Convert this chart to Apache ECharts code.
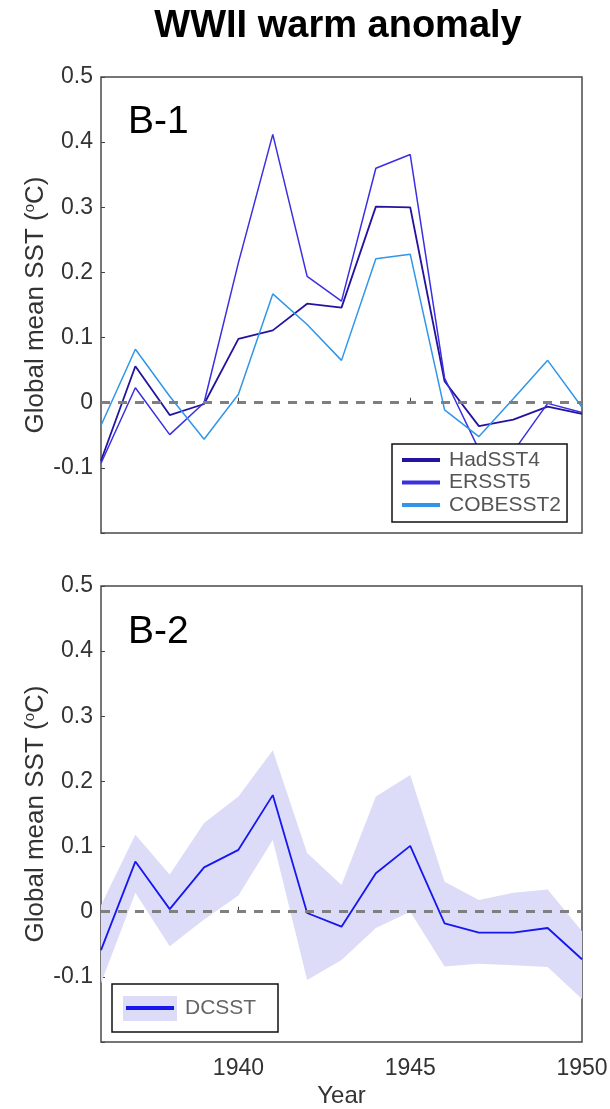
<!DOCTYPE html>
<html>
<head>
<meta charset="utf-8">
<script src="https://cdn.jsdelivr.net/npm/echarts@6/dist/echarts.min.js"></script>
<style>
html,body{margin:0;padding:0;background:#fff;}
#chart{width:610px;height:1109px;}
</style>
</head>
<body>
<div id="chart"></div>
<script>
// ---- data ----
var years = [1936,1937,1938,1939,1940,1941,1942,1943,1944,1945,1946,1947,1948,1949,1950];
var hadSST4  = [-0.089,0.056,-0.019,-0.002,0.098,0.111,0.152,0.146,0.301,0.300,0.033,-0.036,-0.026,-0.006,-0.017];
var ersst5   = [-0.093,0.023,-0.049,0.000,0.215,0.412,0.194,0.156,0.360,0.381,0.038,-0.072,-0.075,-0.001,-0.015];
var cobesst2 = [-0.035,0.082,0.010,-0.056,0.013,0.167,0.120,0.065,0.221,0.228,-0.011,-0.052,0.006,0.065,-0.007];
var dcsst    = [-0.059,0.077,0.004,0.068,0.095,0.179,-0.002,-0.023,0.059,0.101,-0.018,-0.032,-0.032,-0.025,-0.073];
var dcUpper  = [0.010,0.118,0.057,0.136,0.177,0.248,0.090,0.041,0.177,0.210,0.046,0.018,0.029,0.034,-0.030];
var dcLower  = [-0.110,0.029,-0.053,-0.012,0.025,0.110,-0.105,-0.074,-0.025,0.000,-0.084,-0.080,-0.082,-0.085,-0.134];
var xTickLabels = [1940,1945,1950];
var xTicks = [1940,1945];
var yRange = [-0.2, 0.5];

function pairs(arr){ return years.map(function(y,i){ return [y, arr[i]]; }); }

var FONT = 'Liberation Sans, Arial, Helvetica, sans-serif';
var cHad = '#24139f', cErs = '#3b30e0', cCobe = '#2f96ea', cDc = '#1616f0', cBand = '#dcdcf8';

var zeroLine = {
  silent: true, symbol: ['none','none'], label: {show:false},
  lineStyle: {type:[9,8], width:3, color:'#7f7f7f'},
  data: [{yAxis: 0}]
};

function yAxisDef(gi){
  return {
    gridIndex: gi, type:'value', min: yRange[0], max: yRange[1], interval: 0.1,
    axisLine:{show:false}, splitLine:{show:false},
    axisTick:{show:true, inside:true, length:4, lineStyle:{color:'#444'}},
    axisLabel:{fontSize:23, color:'#333', fontFamily:FONT, margin:8,
      formatter:function(v){ var r = Math.round(v*10)/10; if (r <= -0.2) return ''; return String(r); }},
    name:'Global mean SST ({sup|o}C)', nameLocation:'middle', nameRotate:90, nameGap:51,
    nameMoveOverlap:false,
    nameTextStyle:{fontSize:26, color:'#333', fontFamily:FONT, lineHeight:28,
      rich:{sup:{fontSize:15, color:'#333', fontFamily:FONT, verticalAlign:'top', lineHeight:15}}}
  };
}
function xAxisDef(gi, showLabels){
  var a = {
    gridIndex: gi, type:'value', min: years[0], max: years[years.length-1],
    axisLine:{show:false}, splitLine:{show:false},
    axisTick:{show:true, inside:true, length:5, customValues: xTicks, lineStyle:{color:'#444'}},
    axisLabel:{show:showLabels, customValues: xTickLabels, fontSize:23, color:'#333', fontFamily:FONT, margin:15,
      formatter:function(v){ return String(v); }}
  };
  if (showLabels){
    a.name = 'Year'; a.nameLocation = 'middle'; a.nameGap = 42;
    a.nameMoveOverlap = false;
    a.nameTextStyle = {fontSize:24, color:'#333', fontFamily:FONT};
  }
  return a;
}

var option = {
  animation:false,
  backgroundColor:'#fff',
  grid:[
    {left:101, top:77, width:481, height:456, show:true, borderColor:'#4a4a4a', borderWidth:1.5,
     backgroundColor:'transparent', outerBoundsMode:'none', containLabel:false},
    {left:101, top:586, width:481, height:456, show:true, borderColor:'#4a4a4a', borderWidth:1.5,
     backgroundColor:'transparent', outerBoundsMode:'none', containLabel:false}
  ],
  xAxis:[xAxisDef(0,false), xAxisDef(1,true)],
  yAxis:[yAxisDef(0), yAxisDef(1)],
  legend:[
    {data:['HadSST4','ERSST5','COBESST2'], orient:'vertical', left:392, top:444,
     padding:[5,6,6,10], itemWidth:38, itemHeight:4, itemGap:0.5, icon:'rect',
     backgroundColor:'#fff', borderColor:'#111', borderWidth:1.5,
     textStyle:{fontSize:21, color:'#555', fontFamily:FONT, lineHeight:22, padding:[0,0,0,4]},
     selectedMode:false},
    {data:['DCSST'], orient:'vertical', left:112, top:984,
     padding:[13,10,13,14], itemWidth:48, itemHeight:4, icon:'rect',
     textStyle:{fontSize:21, color:'#666', fontFamily:FONT, lineHeight:22, padding:[0,0,0,6]},
     selectedMode:false, z:6}
  ],
  graphic:[
    {type:'text', x:338, y:8, z:10,
     style:{text:'WWII warm anomaly', font:'bold 38px ' + FONT, fill:'#000', textAlign:'center'}},
    {type:'text', x:128, y:122, z:10,
     style:{text:'B-1', font:'39px ' + FONT, fill:'#000', textVerticalAlign:'middle'}},
    {type:'text', x:128, y:632, z:10,
     style:{text:'B-2', font:'39px ' + FONT, fill:'#000', textVerticalAlign:'middle'}},
    {type:'rect', z:4, shape:{x:112, y:984, width:166, height:48},
     style:{fill:'#fff', stroke:'#111', lineWidth:1.5}},
    {type:'rect', z:5, shape:{x:123, y:996, width:54, height:25},
     style:{fill:cBand}}
  ],
  series:[
    {name:'HadSST4', type:'line', xAxisIndex:0, yAxisIndex:0, data:pairs(hadSST4),
     showSymbol:false, color:cHad, lineStyle:{width:1.8, color:cHad}, z:3, markLine:zeroLine},
    {name:'ERSST5', type:'line', xAxisIndex:0, yAxisIndex:0, data:pairs(ersst5),
     showSymbol:false, color:cErs, lineStyle:{width:1.5, color:cErs}, z:3},
    {name:'COBESST2', type:'line', xAxisIndex:0, yAxisIndex:0, data:pairs(cobesst2),
     showSymbol:false, color:cCobe, lineStyle:{width:1.5, color:cCobe}, z:3},
    {name:'DCSST band', type:'custom', xAxisIndex:1, yAxisIndex:1, silent:true, z:1, clip:true,
     data:[[years[0], dcUpper[0]]],
     renderItem:function(params, api){
       if (params.dataIndex !== 0) return;
       var up = [], lo = [];
       for (var i = 0; i < years.length; i++){
         up.push(api.coord([years[i], dcUpper[i]]));
         lo.unshift(api.coord([years[i], dcLower[i]]));
       }
       return {type:'polygon', shape:{points: up.concat(lo)}, style:{fill:cBand}};
     }},
    {name:'DCSST', type:'line', xAxisIndex:1, yAxisIndex:1, data:pairs(dcsst),
     showSymbol:false, color:cDc, lineStyle:{width:1.8, color:cDc}, z:3, markLine:zeroLine}
  ]
};
var chart = echarts.init(document.getElementById('chart'), null, {renderer:'canvas'});
chart.setOption(option);
</script>
</body>
</html>
